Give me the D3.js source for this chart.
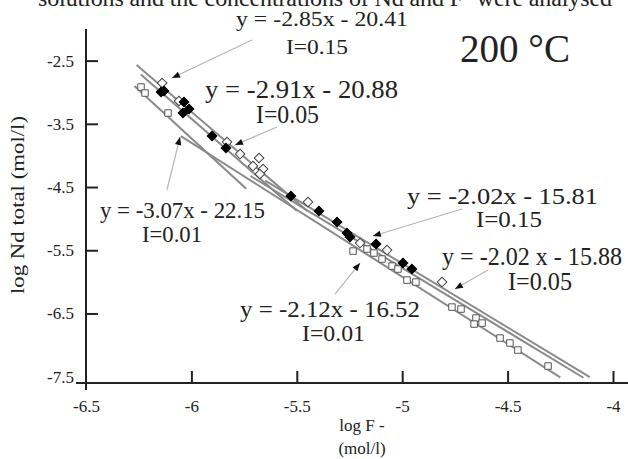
<!DOCTYPE html>
<html>
<head>
<meta charset="utf-8">
<script src="https://cdn.jsdelivr.net/npm/d3@7"></script>
<style>
	body { margin: 0; background: #fff; }
	svg text { font-family: "Liberation Serif", "Times New Roman", serif; fill: #222; }
</style>
</head>
<body>
<svg id="chart" width="628" height="459"></svg>
<script>
// ticks
var xTicks = [-6.5, -6, -5.5, -5, -4.5, -4];
var yTicks = [-2.5, -3.5, -4.5, -5.5, -6.5, -7.5];

// I=0.01 open squares
var sqX = [-6.239, -6.220, -6.111, -5.233, -5.167, -5.134, -5.096, -5.048, -5.020, -4.977,
	-4.935, -4.764, -4.721, -4.650, -4.659, -4.621, -4.536, -4.489, -4.451, -4.308];
var sqY = [-2.918, -3.013, -3.329, -5.513, -5.481, -5.544, -5.639, -5.750, -5.797, -5.972,
	-6.003, -6.399, -6.430, -6.573, -6.668, -6.652, -6.889, -6.968, -7.079, -7.332];

// I=0.05 filled diamonds
var fdX = [-6.144, -6.130, -6.035, -6.040, -6.011, -5.902, -5.836, -5.528, -5.395, -5.309,
	-5.262, -5.248, -5.124, -4.996, -4.954];
var fdY = [-2.997, -2.981, -3.155, -3.329, -3.266, -3.693, -3.883, -4.642, -4.880, -5.054,
	-5.228, -5.291, -5.402, -5.703, -5.797];

// I=0.15 open diamonds
var odX = [-6.139, -6.059, -5.831, -5.769, -5.679, -5.708, -5.660, -5.675, -5.447, -5.200,
	-5.072, -4.811];
var odY = [-2.854, -3.139, -3.788, -3.978, -4.041, -4.168, -4.215, -4.294, -4.737, -5.386,
	-5.497, -6.003];

// fitted lines, y = a*x + b, drawn between xFrom and xTo
var fitSlope = [-3.07, -2.12, -2.91, -2.02, -2.85, -2.02];
var fitIntercept = [-22.15, -16.52, -20.88, -15.88, -20.41, -15.81];
var fitFrom = [-6.27, -6.05, -6.24, -5.72, -6.26, -5.65];
var fitTo = [-5.74, -4.25, -5.50, -4.14, -5.45, -4.11];

// equation labels
var eqText = ["y = -2.85x - 20.41", "y = -2.91x - 20.88", "y = -3.07x - 22.15",
	"y = -2.02x - 15.81", "y = -2.02 x - 15.88", "y = -2.12x - 16.52"];
var eqIonic = ["I=0.15", "I=0.05", "I=0.01", "I=0.15", "I=0.05", "I=0.01"];
// leader lines (data units): from label to arrow tip
var leadFromX = [-5.713, -5.594, -6.116, -4.716, -4.593, -5.319];
var leadFromY = [-2.174, -3.551, -4.547, -4.848, -5.813, -6.193];
var leadToX = [-6.092, -5.793, -6.054, -5.139, -4.750, -5.200];
var leadToY = [-2.775, -3.835, -3.709, -5.275, -6.114, -5.703];

// label layout (pixels): eq x, eq baseline, eq width, I x, I baseline, I width, font size
var labelBox = [
	[236, 26, 172, 286, 54, 62, 22],
	[205, 98, 193, 256, 123, 63, 25],
	[100, 218, 165, 142, 242, 60, 23],
	[407, 204, 191, 476, 227, 66, 23],
	[442, 265, 180, 508, 290, 64, 25],
	[240, 317, 180, 302, 341, 63, 23]
];

var svg = d3.select("#chart");

var x = d3.scaleLinear().domain([-6.5, -4]).range([86, 613]);
var y = d3.scaleLinear().domain([-7.6, -2.0]).range([383, 29]);

// running text of the page above the figure
svg.append("text")
	.attr("x", 38).attr("y", 6)
	.attr("font-size", 24)
	.attr("textLength", 574)
	.attr("lengthAdjust", "spacing")
	.text("solutions and the concentrations of Nd and F\u207B were analysed");

// fitted lines
var lineG = svg.append("g");
fitSlope.forEach(function(a, i) {
	var b = fitIntercept[i];
	lineG.append("line")
		.attr("x1", x(fitFrom[i])).attr("y1", y(a * fitFrom[i] + b))
		.attr("x2", x(fitTo[i])).attr("y2", y(a * fitTo[i] + b))
		.attr("stroke", "#8a8a8a")
		.attr("stroke-width", 2);
});

// points
var sq = d3.symbol().type(d3.symbolSquare).size(42);
var dia = d3.symbol().type(d3.symbolSquare).size(46);

svg.append("g").selectAll("path").data(sqX).enter().append("path")
	.attr("d", sq)
	.attr("transform", function(d, i) { return "translate(" + x(d) + "," + y(sqY[i]) + ")"; })
	.attr("fill", "#fff").attr("stroke", "#555").attr("stroke-width", 1);

svg.append("g").selectAll("path").data(odX).enter().append("path")
	.attr("d", dia)
	.attr("transform", function(d, i) { return "translate(" + x(d) + "," + y(odY[i]) + ") rotate(45)"; })
	.attr("fill", "#fff").attr("stroke", "#444").attr("stroke-width", 1);

svg.append("g").selectAll("path").data(fdX).enter().append("path")
	.attr("d", dia)
	.attr("transform", function(d, i) { return "translate(" + x(d) + "," + y(fdY[i]) + ") rotate(45)"; })
	.attr("fill", "#000").attr("stroke", "#000").attr("stroke-width", 1);

// axes
var fmt = function(d) { return String(d); };

var yAxis = svg.append("g")
	.attr("transform", "translate(86,0)")
	.call(d3.axisLeft(y).tickValues(yTicks).tickFormat(fmt)
		.tickSizeInner(-12).tickSizeOuter(0).tickPadding(12));
var xAxis = svg.append("g")
	.attr("transform", "translate(0,383)")
	.call(d3.axisBottom(x).tickValues(xTicks).tickFormat(fmt)
		.tickSizeInner(-12).tickSizeOuter(0).tickPadding(17));

[yAxis, xAxis].forEach(function(g) {
	g.select(".domain").remove();
	g.selectAll(".tick line").attr("stroke", "#222").attr("stroke-width", 2);
	g.selectAll(".tick text")
		.attr("fill", "#222")
		.style("font-family", '"Liberation Serif", serif')
		.style("font-size", "17px");
});
// -7.5 sits on the x axis, no tick of its own
yAxis.selectAll(".tick").filter(function(d) { return d === -7.5; })
	.select("line").remove();
xAxis.selectAll(".tick").filter(function(d) { return d === -6.5; })
	.select("line").remove();

svg.append("line")
	.attr("x1", 86).attr("x2", 86).attr("y1", 29).attr("y2", 390)
	.attr("stroke", "#222").attr("stroke-width", 2);
svg.append("line")
	.attr("x1", 76).attr("x2", 628).attr("y1", 383).attr("y2", 383)
	.attr("stroke", "#222").attr("stroke-width", 2);

// axis titles
svg.append("text")
	.attr("transform", "translate(24,205) rotate(-90)")
	.attr("text-anchor", "middle")
	.attr("font-size", 19)
	.attr("textLength", 178)
	.attr("lengthAdjust", "spacingAndGlyphs")
	.text("log Nd total (mol/l)");
svg.append("text")
	.attr("x", 362).attr("y", 431)
	.attr("text-anchor", "middle")
	.attr("font-size", 17)
	.text("log F -");
svg.append("text")
	.attr("x", 362).attr("y", 454)
	.attr("text-anchor", "middle")
	.attr("font-size", 17)
	.text("(mol/l)");

// temperature
svg.append("text")
	.attr("x", 460).attr("y", 62)
	.attr("font-size", 40)
	.attr("textLength", 110)
	.attr("lengthAdjust", "spacingAndGlyphs")
	.text("200 \u00B0C");

// equation labels with leader lines
var annG = svg.append("g");
eqText.forEach(function(t, i) {
	var box = labelBox[i];
	var x1 = x(leadFromX[i]), y1 = y(leadFromY[i]);
	var x2 = x(leadToX[i]), y2 = y(leadToY[i]);
	annG.append("line")
		.attr("x1", x1).attr("y1", y1).attr("x2", x2).attr("y2", y2)
		.attr("stroke", "#b5b5b5").attr("stroke-width", 1.2);
	var ang = Math.atan2(y2 - y1, x2 - x1) * 180 / Math.PI;
	annG.append("path")
		.attr("d", "M0,0 L-8,-3.2 L-8,3.2 Z")
		.attr("transform", "translate(" + x2 + "," + y2 + ") rotate(" + ang + ")")
		.attr("fill", "#111");

	annG.append("text")
		.attr("x", box[0]).attr("y", box[1])
		.attr("font-size", box[6])
		.attr("textLength", box[2])
		.attr("lengthAdjust", "spacingAndGlyphs")
		.text(t);
	annG.append("text")
		.attr("x", box[3]).attr("y", box[4])
		.attr("font-size", box[6])
		.attr("textLength", box[5])
		.attr("lengthAdjust", "spacingAndGlyphs")
		.text(eqIonic[i]);
});
</script>
</body>
</html>
